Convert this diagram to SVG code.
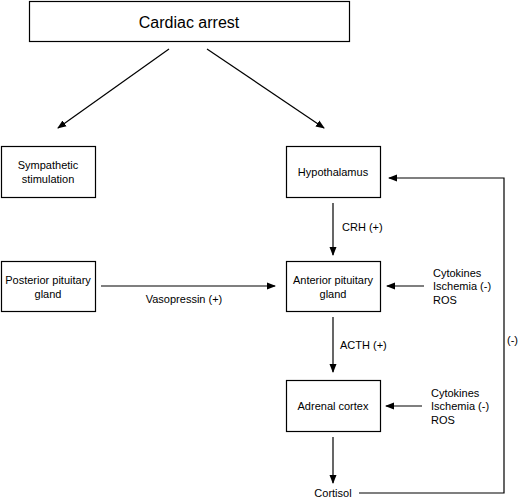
<svg xmlns="http://www.w3.org/2000/svg" width="520" height="499" viewBox="0 0 520 499">
<style>
.box{fill:#fff;stroke:#000;stroke-width:1.2}
.t{font-family:"Liberation Sans",Arial,sans-serif;font-size:11px;fill:#000}
.c{text-anchor:middle}
.ln{stroke:#000;stroke-width:1.2;fill:none}
</style>
<defs>
<marker id="ah" markerWidth="9" markerHeight="8" refX="8" refY="4" orient="auto" markerUnits="userSpaceOnUse">
<path d="M0,0.5 L9,4 L0,7.5 Z" fill="#000"/>
</marker>
</defs>
<rect width="520" height="499" fill="#fff"/>
<g id="cardiac">
<rect class="box" x="29.5" y="1.5" width="320" height="40"/>
<text class="t c" x="189" y="28" style="font-size:16px">Cardiac arrest</text>
</g>
<g id="sympathetic">
<rect class="box" x="1.5" y="146.5" width="94" height="51"/>
<text class="t c" x="48" y="169">Sympathetic</text>
<text class="t c" x="48" y="183">stimulation</text>
</g>
<g id="hypothalamus">
<rect class="box" x="286.5" y="146.5" width="94" height="51"/>
<text class="t c" x="333" y="176">Hypothalamus</text>
</g>
<g id="posterior">
<rect class="box" x="1.5" y="261.5" width="94" height="50"/>
<text class="t c" x="48" y="284">Posterior pituitary</text>
<text class="t c" x="48" y="298">gland</text>
</g>
<g id="anterior">
<rect class="box" x="286.5" y="261.5" width="94" height="50"/>
<text class="t c" x="333" y="284">Anterior pituitary</text>
<text class="t c" x="333" y="298">gland</text>
</g>
<g id="adrenal">
<rect class="box" x="286.5" y="380.5" width="94" height="51"/>
<text class="t c" x="333" y="410">Adrenal cortex</text>
</g>
<g id="cortisol">
<text class="t c" x="333" y="497">Cortisol</text>
</g>
<g id="factors1">
<text class="t" x="433" y="277">Cytokines</text>
<text class="t" x="433" y="290">Ischemia (-)</text>
<text class="t" x="433" y="304">ROS</text>
</g>
<g id="factors2">
<text class="t" x="431" y="397">Cytokines</text>
<text class="t" x="431" y="410">Ischemia (-)</text>
<text class="t" x="431" y="424">ROS</text>
</g>
<g id="connectors">
<line class="ln" x1="169" y1="49" x2="58" y2="128" marker-end="url(#ah)"/>
<line class="ln" x1="207" y1="49" x2="324" y2="128" marker-end="url(#ah)"/>
<line class="ln" x1="333" y1="203" x2="333" y2="255" marker-end="url(#ah)"/>
<text class="t" x="342" y="231">CRH (+)</text>
<line class="ln" x1="101" y1="286" x2="275" y2="286" marker-end="url(#ah)"/>
<text class="t c" x="184" y="303">Vasopressin (+)</text>
<line class="ln" x1="424" y1="286" x2="387" y2="286" marker-end="url(#ah)"/>
<line class="ln" x1="333" y1="317" x2="333" y2="372" marker-end="url(#ah)"/>
<text class="t" x="340" y="349">ACTH (+)</text>
<line class="ln" x1="422" y1="406" x2="386" y2="406" marker-end="url(#ah)"/>
<line class="ln" x1="333" y1="437" x2="333" y2="483" marker-end="url(#ah)"/>
<polyline class="ln" points="359,493 504,493 504,178 389,178" marker-end="url(#ah)"/>
<text class="t" x="507" y="344">(-)</text>
</g>
</svg>
